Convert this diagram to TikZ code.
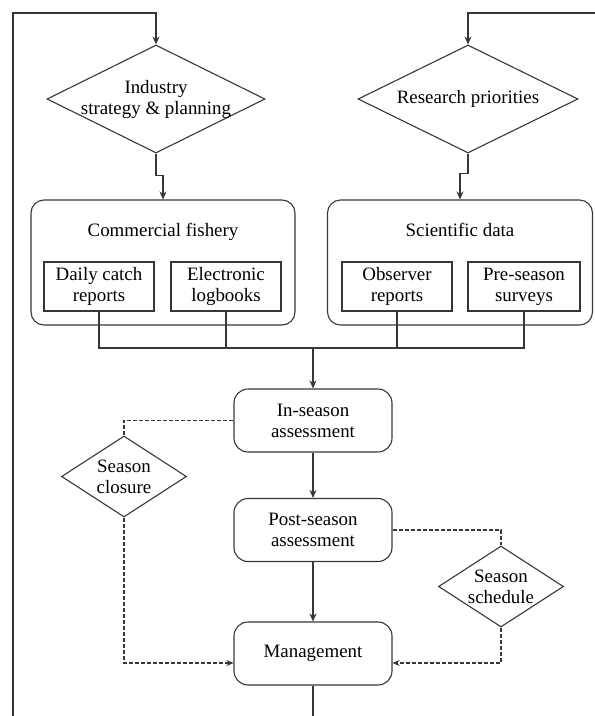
\documentclass[tikz,border=0pt]{standalone}
\usepackage{fontspec}
\setmainfont{Liberation Serif}
\usetikzlibrary{shapes,arrows.meta,positioning,calc}
\definecolor{linecolor}{RGB}{55,55,55}

\begin{document}
\begin{tikzpicture}[x=1pt, y=-1pt, font=\fontsize{18.9}{21}\selectfont,
                every node/.style={draw=linecolor, line width=1.1pt},
                decision/.style={diamond, align=center, aspect=2.02, inner xsep=-8pt, inner ysep=0pt, minimum width=218pt, minimum height=108pt},
                flag/.style={diamond, align=center, aspect=1.55, inner sep=0pt, minimum width=125pt, minimum height=81pt},
                group/.style={rectangle, rounded corners=13pt, minimum width=264pt, inner ysep=0pt, text height=36pt, text depth=89pt},
                source/.style={rectangle, align=center, inner sep=0pt, minimum width=110pt, minimum height=49pt},
                stage/.style={rectangle, rounded corners=14pt, align=center, minimum width=158pt, minimum height=63pt},
                line/.style={draw=linecolor, line width=1.1pt},
                arrow/.style={line, -{Stealth[length=8pt, width=7pt]}},
                dashline/.style={line, dash pattern=on 4pt off 2pt},
                dasharrow/.style={dashline, -{Stealth[length=7pt, width=6pt]}}]

                \useasboundingbox (0,0) rectangle (595,716);

                % Planning
                \node[decision] (industry) at (156,99) {Industry\\strategy \& planning};
                \node[decision, minimum width=220pt] (research) at (468,99) {Research priorities};

                % Feedback loop
                \coordinate (loopL) at (13,716);
                \coordinate (topL) at (13,13);
                \coordinate (loopR) at (595,13);
                \draw[arrow] (loopL) -- (topL) -| (industry.north);
                \draw[arrow] (loopR) -| (research.north);

                % Data sources
                \node[group] (commercial) at (163,262.5) {Commercial fishery};
                \node[group, minimum width=265pt] (scientific) at (460,262.5) {Scientific data};
                \draw[arrow] (industry.south) -- ++(0,22) -| (commercial.north);
                \draw[arrow] (research.south) -- ++(0,20) -| (scientific.north);

                \node[source] (daily) at (99,286.5) {Daily catch\\reports};
                \node[source] (logbooks) at (226,286.5) {Electronic\\logbooks};
                \node[source] (observer) at (397,286.5) {Observer\\reports};
                \node[source, minimum width=112pt] (surveys) at (524,286.5) {Pre-season\\surveys};

                % Data bus
                \coordinate (bus) at (313,348);
                \draw[line] (daily.south) -- (daily.south |- bus) -- (surveys.south |- bus) -- (surveys.south);
                \draw[line] (logbooks.south) -- (logbooks.south |- bus);
                \draw[line] (observer.south) -- (observer.south |- bus);

                % Assessment
                \node[stage] (inseason) at (313,420.5) {In-season\\assessment};
                \node[stage] (postseason) at (313,530) {Post-season\\assessment};
                \node[stage] (management) at (313,653.5) {Management};
                \draw[arrow] (bus) -- (inseason);
                \draw[arrow] (inseason) -- (postseason);
                \draw[arrow] (postseason) -- (management);

                % Season decisions
                \node[flag] (closure) at (124,476.5) {Season\\closure};
                \node[flag] (schedule) at (501,586.5) {Season\\schedule};
                \draw[dashline] (inseason.west) -| (closure.north);
                \draw[dasharrow] (closure.south) |- ([yshift=-9.5pt]management.west);
                \draw[dashline] (postseason.east) -| (schedule.north);
                \draw[dasharrow] (schedule.south) |- ([yshift=-9.5pt]management.east);

                % Output
                \coordinate (out) at (313,716);
                \draw[line] (management.south) -- (out);

\end{tikzpicture}
\end{document}
